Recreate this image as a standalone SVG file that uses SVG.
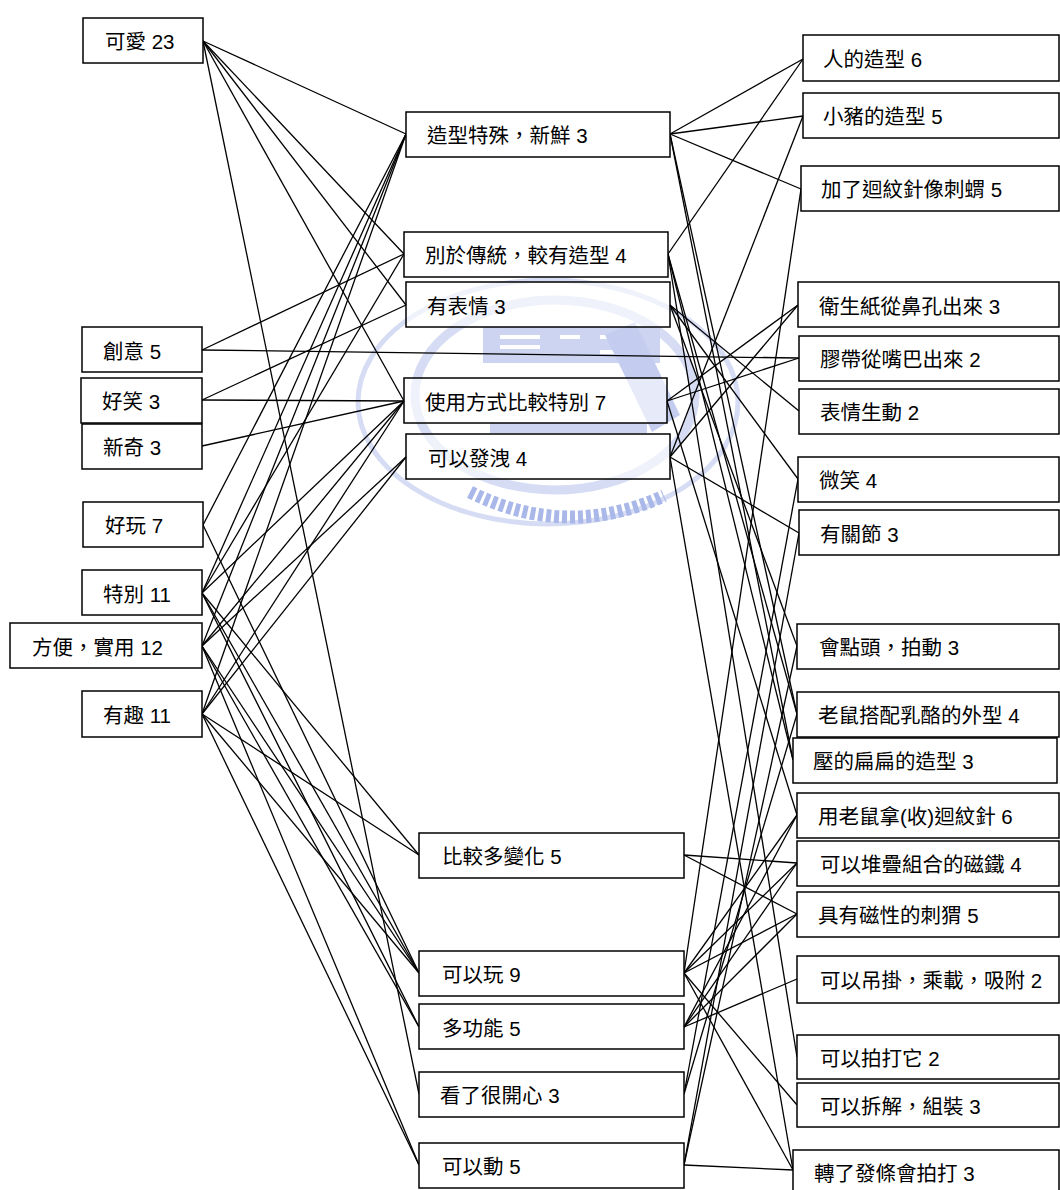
<svg xmlns="http://www.w3.org/2000/svg" width="1060" height="1190" viewBox="0 0 1060 1190">
<style>
.box{fill:#fff;stroke:#000;stroke-width:1.5}
.t{font-family:'Liberation Sans','Noto Sans CJK TC',sans-serif;font-size:20.5px;fill:#000}
.c line{stroke:#000;stroke-width:1.3}
.wm{fill:none;stroke:#d6dcf4}
</style>
<rect width="1060" height="1190" fill="#fff"/>
<g id="watermark">
<ellipse class="wm" cx="548" cy="402" rx="190" ry="122" stroke-width="5"/>
<ellipse class="wm" cx="555" cy="395" rx="140" ry="95" stroke-width="9"/>
<rect x="483" y="327" width="177" height="36" fill="#ccd4f1"/>
<path d="M500 337h40M500 347h40M560 337h20M600 337h30M600 352h30" stroke="#fff" stroke-width="4"/>
<polygon points="605,335 635,322 680,415 652,432" fill="#c4cdef"/>
<rect x="490" y="423" width="157" height="10" fill="#ccd4f1"/>
<path d="M470 492 Q566 540 664 496" fill="none" stroke="#a9b8e8" stroke-width="13" stroke-dasharray="5 3"/>
</g>
<g id="connectors" class="c">
<line x1="203" y1="41" x2="406" y2="134"/>
<line x1="203" y1="41" x2="404" y2="254"/>
<line x1="203" y1="41" x2="406" y2="305"/>
<line x1="203" y1="41" x2="404" y2="401"/>
<line x1="203" y1="41" x2="419" y2="1094"/>
<line x1="202" y1="350" x2="404" y2="254"/>
<line x1="202" y1="350" x2="799" y2="358"/>
<line x1="202" y1="400" x2="406" y2="305"/>
<line x1="202" y1="400" x2="404" y2="401"/>
<line x1="202" y1="446" x2="404" y2="401"/>
<line x1="203" y1="525" x2="406" y2="134"/>
<line x1="203" y1="525" x2="419" y2="973"/>
<line x1="202" y1="593" x2="406" y2="134"/>
<line x1="202" y1="593" x2="404" y2="254"/>
<line x1="202" y1="593" x2="404" y2="401"/>
<line x1="202" y1="593" x2="419" y2="855"/>
<line x1="202" y1="593" x2="419" y2="973"/>
<line x1="202" y1="593" x2="419" y2="1027"/>
<line x1="202" y1="646" x2="406" y2="134"/>
<line x1="202" y1="646" x2="404" y2="401"/>
<line x1="202" y1="646" x2="406" y2="457"/>
<line x1="202" y1="646" x2="419" y2="973"/>
<line x1="202" y1="646" x2="419" y2="1027"/>
<line x1="202" y1="646" x2="419" y2="1165"/>
<line x1="202" y1="714" x2="406" y2="134"/>
<line x1="202" y1="714" x2="404" y2="401"/>
<line x1="202" y1="714" x2="406" y2="457"/>
<line x1="202" y1="714" x2="419" y2="855"/>
<line x1="202" y1="714" x2="419" y2="973"/>
<line x1="202" y1="714" x2="419" y2="1165"/>
<line x1="670" y1="134" x2="803" y2="59"/>
<line x1="670" y1="134" x2="803" y2="116"/>
<line x1="670" y1="134" x2="801" y2="189"/>
<line x1="670" y1="134" x2="797" y2="714"/>
<line x1="670" y1="134" x2="793" y2="760"/>
<line x1="668" y1="254" x2="803" y2="59"/>
<line x1="668" y1="254" x2="797" y2="714"/>
<line x1="668" y1="254" x2="793" y2="760"/>
<line x1="668" y1="254" x2="797" y2="1057"/>
<line x1="670" y1="305" x2="799" y2="411"/>
<line x1="670" y1="305" x2="798" y2="479"/>
<line x1="670" y1="305" x2="797" y2="646"/>
<line x1="667" y1="401" x2="798" y2="305"/>
<line x1="667" y1="401" x2="799" y2="358"/>
<line x1="667" y1="401" x2="797" y2="815"/>
<line x1="670" y1="457" x2="803" y2="116"/>
<line x1="670" y1="457" x2="798" y2="305"/>
<line x1="670" y1="457" x2="799" y2="533"/>
<line x1="670" y1="457" x2="793" y2="1170"/>
<line x1="684" y1="855" x2="797" y2="863"/>
<line x1="684" y1="855" x2="797" y2="914"/>
<line x1="684" y1="973" x2="801" y2="189"/>
<line x1="684" y1="973" x2="797" y2="815"/>
<line x1="684" y1="973" x2="797" y2="863"/>
<line x1="684" y1="973" x2="797" y2="914"/>
<line x1="684" y1="973" x2="797" y2="1105"/>
<line x1="684" y1="973" x2="793" y2="1170"/>
<line x1="684" y1="1027" x2="797" y2="815"/>
<line x1="684" y1="1027" x2="797" y2="863"/>
<line x1="684" y1="1027" x2="797" y2="914"/>
<line x1="684" y1="1027" x2="797" y2="979"/>
<line x1="684" y1="1094" x2="798" y2="479"/>
<line x1="684" y1="1094" x2="797" y2="714"/>
<line x1="684" y1="1165" x2="799" y2="533"/>
<line x1="684" y1="1165" x2="797" y2="646"/>
<line x1="684" y1="1165" x2="793" y2="1170"/>
</g>
<g id="n-keai"><rect class="box" x="83" y="18" width="120" height="45"/><text class="t" x="105" y="49">可愛 23</text></g>
<g id="n-chuangyi"><rect class="box" x="82" y="327" width="120" height="45"/><text class="t" x="103" y="359">創意 5</text></g>
<g id="n-haoxiao"><rect class="box" x="81" y="378" width="121" height="45"/><text class="t" x="102" y="409">好笑 3</text></g>
<g id="n-xinqi"><rect class="box" x="82" y="424" width="120" height="45"/><text class="t" x="103" y="455">新奇 3</text></g>
<g id="n-haowan"><rect class="box" x="83" y="502" width="120" height="45"/><text class="t" x="105" y="533">好玩 7</text></g>
<g id="n-tebie"><rect class="box" x="82" y="570" width="120" height="45"/><text class="t" x="103" y="602">特別 11</text></g>
<g id="n-fangbian"><rect class="box" x="10" y="623" width="192" height="45"/><text class="t" x="32" y="655">方便，實用 12</text></g>
<g id="n-youqu"><rect class="box" x="82" y="691" width="120" height="46"/><text class="t" x="103" y="723">有趣 11</text></g>

<g id="m-zaoxing"><rect class="box" x="406" y="112" width="264" height="45"/><text class="t" x="427" y="143">造型特殊，新鮮 3</text></g>
<g id="m-bieyu"><rect class="box" x="404" y="232" width="264" height="45"/><text class="t" x="425" y="263">別於傳統，較有造型 4</text></g>
<g id="m-biaoqing"><rect class="box" x="406" y="282" width="264" height="45" fill-opacity="0.6"/><text class="t" x="427" y="314">有表情 3</text></g>
<g id="m-shiyong"><rect class="box" x="404" y="378" width="263" height="45" fill-opacity="0.6"/><text class="t" x="425" y="410">使用方式比較特別 7</text></g>
<g id="m-faxie"><rect class="box" x="406" y="434" width="264" height="45" fill-opacity="0.6"/><text class="t" x="428" y="466">可以發洩 4</text></g>
<g id="m-bianhua"><rect class="box" x="419" y="833" width="265" height="45"/><text class="t" x="442" y="864">比較多變化 5</text></g>
<g id="m-kewan"><rect class="box" x="419" y="951" width="265" height="45"/><text class="t" x="442" y="982">可以玩 9</text></g>
<g id="m-duogongneng"><rect class="box" x="419" y="1004" width="265" height="45"/><text class="t" x="442" y="1036">多功能 5</text></g>
<g id="m-kaixin"><rect class="box" x="419" y="1072" width="265" height="45"/><text class="t" x="440" y="1103">看了很開心 3</text></g>
<g id="m-kedong"><rect class="box" x="419" y="1143" width="265" height="45"/><text class="t" x="442" y="1174">可以動 5</text></g>

<g id="r-ren"><rect class="box" x="803" y="35" width="256" height="46"/><text class="t" x="823" y="67">人的造型 6</text></g>
<g id="r-xiaozhu"><rect class="box" x="803" y="93" width="256" height="45"/><text class="t" x="823" y="124">小豬的造型 5</text></g>
<g id="r-huiwen"><rect class="box" x="801" y="166" width="258" height="45"/><text class="t" x="821" y="197">加了迴紋針像刺蝟 5</text></g>
<g id="r-weisheng"><rect class="box" x="798" y="282" width="261" height="45"/><text class="t" x="819" y="314">衛生紙從鼻孔出來 3</text></g>
<g id="r-jiaodai"><rect class="box" x="799" y="336" width="260" height="45"/><text class="t" x="820" y="367">膠帶從嘴巴出來 2</text></g>
<g id="r-shengdong"><rect class="box" x="799" y="389" width="260" height="45"/><text class="t" x="820" y="420">表情生動 2</text></g>
<g id="r-weixiao"><rect class="box" x="798" y="457" width="261" height="45"/><text class="t" x="819" y="488">微笑 4</text></g>
<g id="r-guanjie"><rect class="box" x="799" y="510" width="260" height="45"/><text class="t" x="820" y="542">有關節 3</text></g>
<g id="r-diantou"><rect class="box" x="797" y="624" width="262" height="45"/><text class="t" x="819" y="655">會點頭，拍動 3</text></g>
<g id="r-laoshu"><rect class="box" x="797" y="692" width="262" height="45"/><text class="t" x="818" y="723">老鼠搭配乳酪的外型 4</text></g>
<g id="r-biandian"><rect class="box" x="793" y="738" width="264" height="45"/><text class="t" x="813" y="769">壓的扁扁的造型 3</text></g>
<g id="r-nahuiwen"><rect class="box" x="797" y="793" width="262" height="45"/><text class="t" x="818" y="824">用老鼠拿(收)迴紋針 6</text></g>
<g id="r-duidie"><rect class="box" x="797" y="841" width="262" height="45"/><text class="t" x="820" y="872">可以堆疊組合的磁鐵 4</text></g>
<g id="r-cixing"><rect class="box" x="797" y="892" width="262" height="45"/><text class="t" x="818" y="923">具有磁性的刺猬 5</text></g>
<g id="r-diaogua"><rect class="box" x="797" y="956" width="262" height="47"/><text class="t" x="820" y="988">可以吊掛，乘載，吸附 2</text></g>
<g id="r-paida"><rect class="box" x="797" y="1035" width="262" height="44"/><text class="t" x="820" y="1066">可以拍打它 2</text></g>
<g id="r-chaijie"><rect class="box" x="797" y="1083" width="262" height="44"/><text class="t" x="820" y="1114">可以拆解，組裝 3</text></g>
<g id="r-fatiao"><rect class="box" x="793" y="1150" width="266" height="45"/><text class="t" x="814" y="1181">轉了發條會拍打 3</text></g>
</svg>
